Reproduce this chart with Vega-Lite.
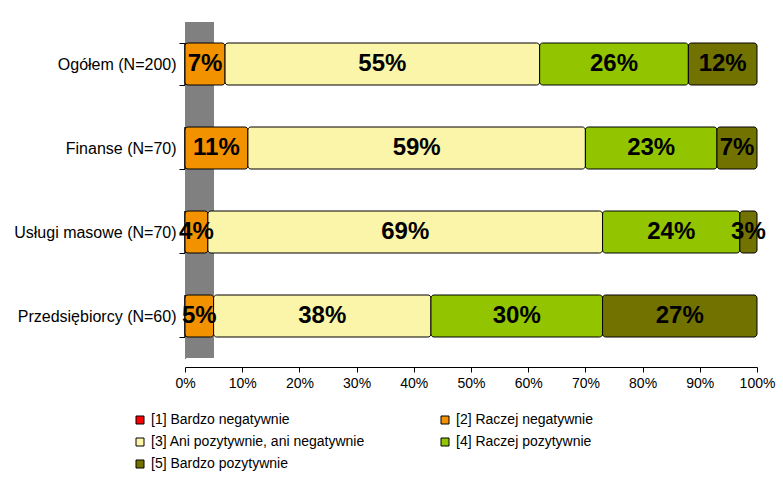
{
  "$schema": "https://vega.github.io/schema/vega-lite/v6.json",
  "width": 572,
  "height": 336,
  "autosize": "none",
  "padding": {"left": 185, "top": 22, "right": 26, "bottom": 121},
  "background": "white",
  "config": {
    "view": {"stroke": null},
    "font": "Liberation Sans",
    "axis": {"labelFont": "Liberation Sans", "labelColor": "#000", "domainColor": "#000", "tickColor": "#000", "grid": false}
  },
  "data": {
    "values": [
      {"grupa": "Ogółem (N=200)", "ocena": "[1] Bardzo negatywnie", "kol": 1, "procent": 0},
      {"grupa": "Ogółem (N=200)", "ocena": "[2] Raczej negatywnie", "kol": 2, "procent": 7},
      {"grupa": "Ogółem (N=200)", "ocena": "[3] Ani pozytywnie, ani negatywnie", "kol": 3, "procent": 55},
      {"grupa": "Ogółem (N=200)", "ocena": "[4] Raczej pozytywnie", "kol": 4, "procent": 26},
      {"grupa": "Ogółem (N=200)", "ocena": "[5] Bardzo pozytywnie", "kol": 5, "procent": 12},
      {"grupa": "Finanse (N=70)", "ocena": "[1] Bardzo negatywnie", "kol": 1, "procent": 0},
      {"grupa": "Finanse (N=70)", "ocena": "[2] Raczej negatywnie", "kol": 2, "procent": 11},
      {"grupa": "Finanse (N=70)", "ocena": "[3] Ani pozytywnie, ani negatywnie", "kol": 3, "procent": 59},
      {"grupa": "Finanse (N=70)", "ocena": "[4] Raczej pozytywnie", "kol": 4, "procent": 23},
      {"grupa": "Finanse (N=70)", "ocena": "[5] Bardzo pozytywnie", "kol": 5, "procent": 7},
      {"grupa": "Usługi masowe (N=70)", "ocena": "[1] Bardzo negatywnie", "kol": 1, "procent": 0},
      {"grupa": "Usługi masowe (N=70)", "ocena": "[2] Raczej negatywnie", "kol": 2, "procent": 4},
      {"grupa": "Usługi masowe (N=70)", "ocena": "[3] Ani pozytywnie, ani negatywnie", "kol": 3, "procent": 69},
      {"grupa": "Usługi masowe (N=70)", "ocena": "[4] Raczej pozytywnie", "kol": 4, "procent": 24},
      {"grupa": "Usługi masowe (N=70)", "ocena": "[5] Bardzo pozytywnie", "kol": 5, "procent": 3},
      {"grupa": "Przedsiębiorcy (N=60)", "ocena": "[1] Bardzo negatywnie", "kol": 1, "procent": 0},
      {"grupa": "Przedsiębiorcy (N=60)", "ocena": "[2] Raczej negatywnie", "kol": 2, "procent": 5},
      {"grupa": "Przedsiębiorcy (N=60)", "ocena": "[3] Ani pozytywnie, ani negatywnie", "kol": 3, "procent": 38},
      {"grupa": "Przedsiębiorcy (N=60)", "ocena": "[4] Raczej pozytywnie", "kol": 4, "procent": 30},
      {"grupa": "Przedsiębiorcy (N=60)", "ocena": "[5] Bardzo pozytywnie", "kol": 5, "procent": 27}
    ]
  },
  "transform": [
    {"stack": "procent", "groupby": ["grupa"], "sort": [{"field": "kol", "order": "ascending"}], "as": ["p0", "p1"]},
    {"calculate": "(datum.p0 + datum.p1) / 2", "as": "pmid"},
    {"calculate": "datum.procent + '%'", "as": "etykieta"}
  ],
  "layer": [
    {
      "mark": {"type": "rect", "color": "#808080"},
      "encoding": {
        "x": {"datum": 0, "type": "quantitative"},
        "x2": {"datum": 5}
      }
    },
    {
      "mark": {"type": "bar", "stroke": "#000", "strokeWidth": 1, "cornerRadius": 3},
      "encoding": {
        "y": {
          "field": "grupa",
          "type": "nominal",
          "sort": ["Ogółem (N=200)", "Finanse (N=70)", "Usługi masowe (N=70)", "Przedsiębiorcy (N=60)"],
          "scale": {"paddingInner": 0.5, "paddingOuter": 0.25},
          "axis": {"title": null, "tickBand": "extent", "tickSize": 6, "labelPadding": 3, "labelFontSize": 16, "labelLimit": 200}
        },
        "x": {
          "field": "p0",
          "type": "quantitative",
          "scale": {"domain": [0, 100], "nice": false},
          "axis": {"title": null, "values": [0, 10, 20, 30, 40, 50, 60, 70, 80, 90, 100], "labelExpr": "datum.value + '%'", "offset": 9, "tickSize": 5, "labelPadding": 4, "labelFlush": false, "labelFontSize": 14}
        },
        "x2": {"field": "p1"},
        "color": {
          "field": "ocena",
          "type": "nominal",
          "scale": {
            "domain": ["[1] Bardzo negatywnie", "[2] Raczej negatywnie", "[3] Ani pozytywnie, ani negatywnie", "[4] Raczej pozytywnie", "[5] Bardzo pozytywnie"],
            "range": ["#FF0000", "#F39200", "#FAF5A8", "#92C400", "#727200"]
          },
          "legend": {
            "title": null,
            "orient": "none",
            "legendX": -52,
            "legendY": 391,
            "direction": "horizontal",
            "columns": 2,
            "columnPadding": 72,
            "rowPadding": 8,
            "symbolType": "square",
            "symbolSize": 64,
            "symbolStrokeColor": "#000",
            "symbolStrokeWidth": 1,
            "labelFont": "Liberation Sans",
            "labelFontSize": 14,
            "labelColor": "#000",
            "labelOffset": 4,
            "labelLimit": 300
          }
        }
      }
    },
    {
      "transform": [{"filter": "datum.procent > 0"}],
      "mark": {"type": "text", "font": "Liberation Sans", "fontSize": 24, "fontWeight": "bold", "color": "#000", "align": "center", "baseline": "middle"},
      "encoding": {
        "y": {
          "field": "grupa",
          "type": "nominal",
          "sort": ["Ogółem (N=200)", "Finanse (N=70)", "Usługi masowe (N=70)", "Przedsiębiorcy (N=60)"]
        },
        "x": {"field": "pmid", "type": "quantitative"},
        "text": {"field": "etykieta", "type": "nominal"},
        "detail": {"field": "ocena"}
      }
    }
  ]
}
